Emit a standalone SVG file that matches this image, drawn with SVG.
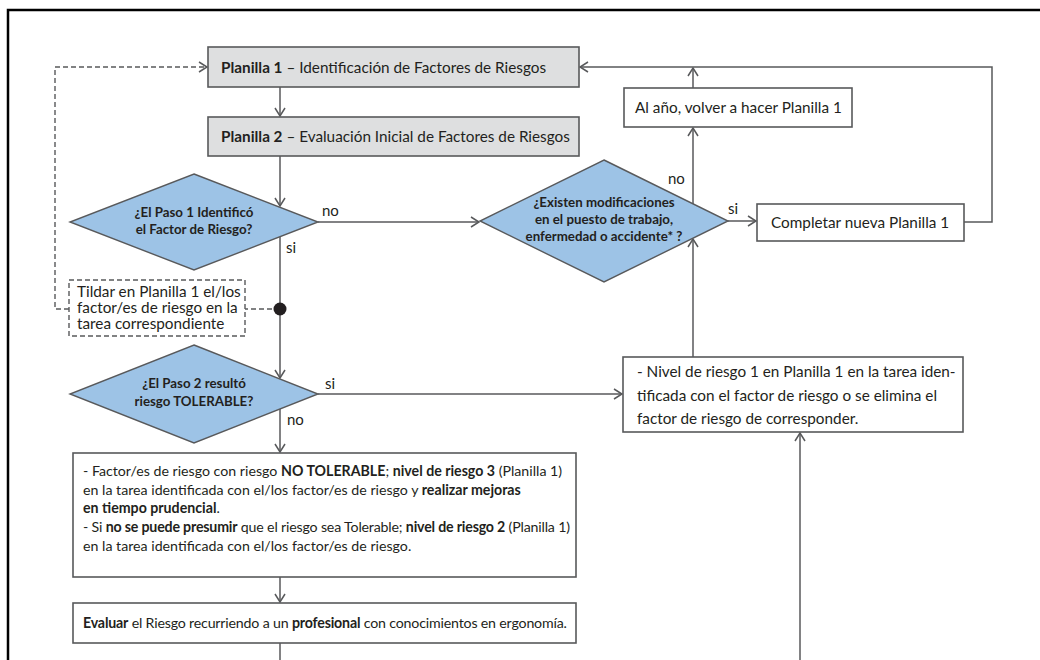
<svg xmlns="http://www.w3.org/2000/svg" width="1040" height="660" viewBox="0 0 1040 660">
  <defs>
    <marker id="arr" viewBox="0 0 10 12" refX="9" refY="6" markerWidth="10" markerHeight="12" markerUnits="userSpaceOnUse" orient="auto">
      <path d="M1,1 L9,6 L1,11" fill="none" stroke="#58595b" stroke-width="1.5"/>
    </marker>
    <style>
      text { font-family: Lato, "Liberation Sans", sans-serif; fill: #231f20; }
      .t { font-size: 15.3px; }
      .m { font-size: 14.2px; }
      .tight { letter-spacing: -0.18px; }
      .b { font-weight: bold; }
      .q { font-size: 13.3px; font-weight: bold; text-anchor: middle; }
      .lab { font-size: 15px; }
      .box { fill: #ffffff; stroke: #58595b; stroke-width: 1.6; }
      .grey { fill: #dedfe0; stroke: #58595b; stroke-width: 1.6; }
      .dia { fill: #9dc3e6; stroke: #58595b; stroke-width: 1.4; }
      .dash { fill: #ffffff; stroke: #58595b; stroke-width: 1.4; stroke-dasharray: 5 3; }
      .ln { fill: none; stroke: #58595b; stroke-width: 1.5; }
      .lnd { fill: none; stroke: #58595b; stroke-width: 1.4; stroke-dasharray: 5 3; }
    </style>
  </defs>

  <rect width="1040" height="660" fill="#ffffff"/>
  <!-- page frame -->
  <path d="M8,662 L8,10 L1042,10" fill="none" stroke="#000000" stroke-width="2.5"/>

  <!-- connectors -->
  <g id="connectors">
    <path class="ln" d="M280,87 L280,116" marker-end="url(#arr)"/>
    <path class="ln" d="M280,156 L280,206" marker-end="url(#arr)"/>
    <path class="ln" d="M318,222 L479,222" marker-end="url(#arr)"/>
    <path class="ln" d="M280,237 L280,378" marker-end="url(#arr)"/>
    <path class="lnd" d="M280,309 L245,309"/>
    <path class="lnd" d="M69,309 L55,309 L55,67 L207,67" marker-end="url(#arr)"/>
    <path class="ln" d="M318,394 L622,394" marker-end="url(#arr)"/>
    <path class="ln" d="M280,409 L280,452" marker-end="url(#arr)"/>
    <path class="ln" d="M280,577 L280,602" marker-end="url(#arr)"/>
    <path class="ln" d="M280,643 L280,662"/>
    <path class="ln" d="M800,662 L800,433" marker-end="url(#arr)"/>
    <path class="ln" d="M693,357 L693,239" marker-end="url(#arr)"/>
    <path class="ln" d="M693,204 L693,128" marker-end="url(#arr)"/>
    <path class="ln" d="M693,88 L693,68" marker-end="url(#arr)"/>
    <path class="ln" d="M728,221 L756,221" marker-end="url(#arr)"/>
    <path class="ln" d="M964,222 L992,222 L992,67 L580,67" marker-end="url(#arr)"/>
    <circle cx="280" cy="309" r="6.5" fill="#231f20"/>
    <text class="lab" x="322" y="216">no</text>
    <text class="lab" x="286" y="253">si</text>
    <text class="lab" x="668" y="184">no</text>
    <text class="lab" x="728" y="214">si</text>
    <text class="lab" x="325" y="389">si</text>
    <text class="lab" x="287" y="425">no</text>
  </g>

  <g id="planilla1">
    <rect class="grey" x="208" y="47" width="371" height="40"/>
    <text class="t" x="221" y="73"><tspan class="b">Planilla 1</tspan> – Identificación de Factores de Riesgos</text>
  </g>

  <g id="planilla2">
    <rect class="grey" x="208" y="117" width="371" height="39"/>
    <text class="t" x="221" y="142"><tspan class="b">Planilla 2</tspan> – Evaluación Inicial de Factores de Riesgos</text>
  </g>

  <g id="paso1">
    <polygon class="dia" points="194,174 318,222 194,270 70,222"/>
    <text class="q" x="194" y="217">¿El Paso 1 Identificó</text>
    <text class="q" x="194" y="234">el Factor de Riesgo?</text>
  </g>

  <g id="tildar">
    <rect class="dash" x="69" y="280" width="176" height="56"/>
    <text class="t" x="77" y="297">Tildar en Planilla 1 el/los</text>
    <text class="t" x="77" y="313">factor/es de riesgo en la</text>
    <text class="t" x="77" y="329">tarea correspondiente</text>
  </g>

  <g id="paso2">
    <polygon class="dia" points="194,345 318,394 194,443 70,394"/>
    <text class="q" x="194" y="388">¿El Paso 2 resultó</text>
    <text class="q" x="194" y="406">riesgo TOLERABLE?</text>
  </g>

  <g id="modificaciones">
    <polygon class="dia" points="604,160 728,221 604,282 480,221"/>
    <text class="q" x="604" y="207">¿Existen modificaciones</text>
    <text class="q" x="604" y="224">en el puesto de trabajo,</text>
    <text class="q" x="604" y="241">enfermedad o accidente* ?</text>
  </g>

  <g id="alanio">
    <rect class="box" x="624" y="88" width="228" height="39"/>
    <text class="t" x="635" y="113">Al año, volver a hacer Planilla 1</text>
  </g>

  <g id="completar">
    <rect class="box" x="757" y="204" width="207" height="37"/>
    <text class="t" x="771" y="228">Completar nueva Planilla 1</text>
  </g>

  <g id="nivel1">
    <rect class="box" x="623" y="357" width="340" height="75"/>
    <text class="t" x="637" y="377">- Nivel de riesgo 1 en Planilla 1 en la tarea iden-</text>
    <text class="t" x="637" y="401">tificada con el factor de riesgo o se elimina el</text>
    <text class="t" x="637" y="424">factor de riesgo de corresponder.</text>
  </g>

  <g id="notolerable">
    <rect class="box" x="73" y="453" width="503" height="124"/>
    <text class="m" x="83" y="476">- Factor/es de riesgo con riesgo <tspan class="b">NO TOLERABLE</tspan>; <tspan class="b">nivel de riesgo 3</tspan> (Planilla 1)</text>
    <text class="m" x="83" y="495">en la tarea identificada con el/los factor/es de riesgo y <tspan class="b">realizar mejoras</tspan></text>
    <text class="m" x="83" y="513"><tspan class="b">en tiempo prudencial</tspan>.</text>
    <text class="m tight" x="83" y="532">- Si <tspan class="b">no se puede presumir</tspan> que el riesgo sea Tolerable; <tspan class="b">nivel de riesgo 2</tspan> (Planilla 1)</text>
    <text class="m" x="83" y="551">en la tarea identificada con el/los factor/es de riesgo.</text>
  </g>

  <g id="evaluar">
    <rect class="box" x="73" y="603" width="503" height="40"/>
    <text class="m tight" x="83" y="628"><tspan class="b">Evaluar</tspan> el Riesgo recurriendo a un <tspan class="b">profesional</tspan> con conocimientos en ergonomía.</text>
  </g>
</svg>
